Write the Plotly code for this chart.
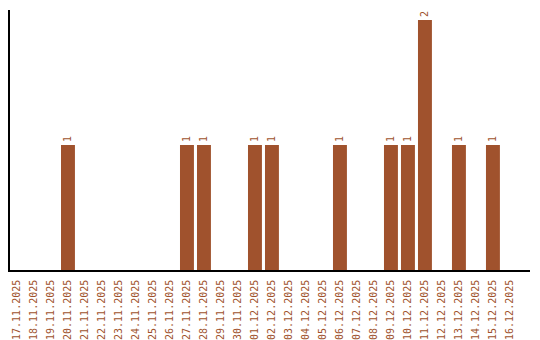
import plotly.graph_objects as go
import pandas as pd

dates = [d.strftime("%d.%m.%Y") for d in pd.date_range("2025-11-17", "2025-12-16")]
counts_map = {
    "20.11.2025": 1, "27.11.2025": 1, "28.11.2025": 1, "01.12.2025": 1,
    "02.12.2025": 1, "06.12.2025": 1, "09.12.2025": 1, "10.12.2025": 1,
    "11.12.2025": 2, "13.12.2025": 1, "15.12.2025": 1,
}
values = [counts_map.get(d, 0) for d in dates]
labels = [str(v) if v else "" for v in values]

color = "#A0522D"
fig = go.Figure(go.Bar(
    x=dates, y=values, marker_color=color, marker_line_width=0,
    text=labels, textposition="outside", textangle=-90,
    textfont=dict(family="DejaVu Sans Mono", size=10, color=color),
    cliponaxis=False,
))
fig.update_layout(
    width=540, height=340, margin=dict(l=10, r=10, t=10, b=70),
    plot_bgcolor="white", paper_bgcolor="white", bargap=0.18,
    showlegend=False,
    font=dict(family="DejaVu Sans Mono", size=10, color=color),
)
fig.update_xaxes(type="category", tickangle=-90, showline=True, linecolor="black",
                 linewidth=1.5, ticks="", showgrid=False, automargin=False,
                 range=[-0.41, 30.18], ticklabelstandoff=4,
                 tickfont=dict(family="DejaVu Sans Mono", size=10, color=color))
fig.update_yaxes(range=[0, 2.08], showline=True, linecolor="black", linewidth=1.5,
                 showticklabels=False, ticks="", showgrid=False, zeroline=False,
                 automargin=False)
fig.write_html("out.html")
